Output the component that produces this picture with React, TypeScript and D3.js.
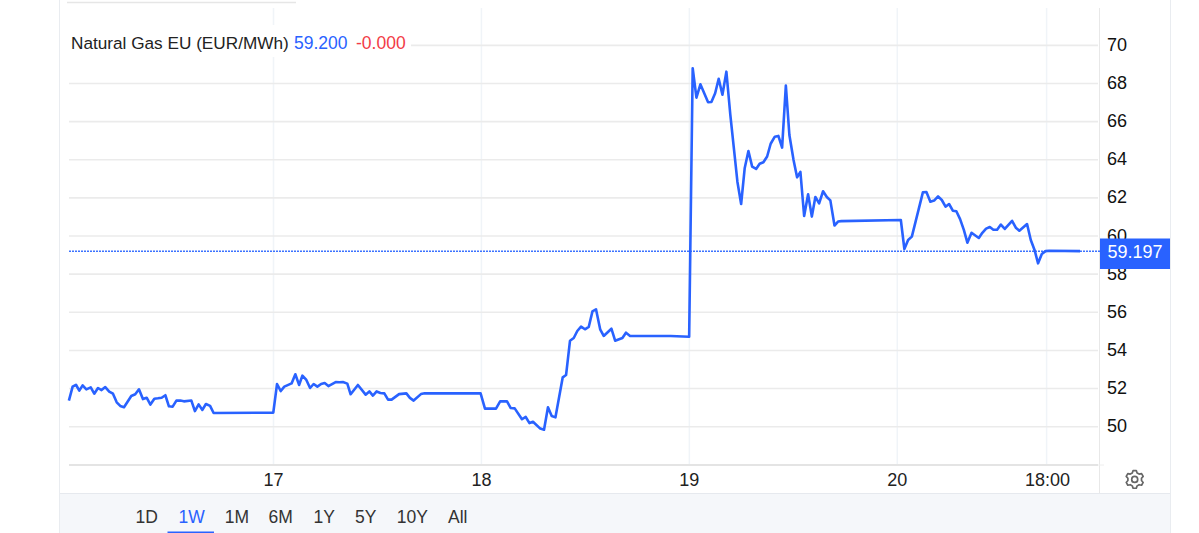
import React from "react";
import * as d3 from "d3";

const days = [
  16.016,16.034,16.050,16.066,16.082,16.100,16.121,16.138,16.156,16.173,16.191,16.210,16.228,16.246,16.263,16.281,16.316,16.335,16.353,16.372,16.390,16.408,16.427,16.444,16.462,16.480,16.497,16.515,16.533,16.552,16.569,16.605,16.622,16.640,16.658,16.675,16.695,16.712,16.999,
  17.017,17.035,17.052,17.087,17.105,17.123,17.139,17.158,17.176,17.193,17.211,17.229,17.246,17.264,17.299,17.317,17.334,17.355,17.371,17.406,17.443,17.461,17.478,17.496,17.514,17.533,17.551,17.568,17.604,17.639,17.656,17.674,17.709,17.727,17.996,
  18.017,18.070,18.090,18.123,18.141,18.160,18.195,18.213,18.231,18.248,18.283,18.301,18.320,18.338,18.356,18.391,18.407,18.426,18.444,18.461,18.479,18.498,18.516,18.534,18.551,18.571,18.588,18.625,18.643,18.678,18.695,18.715,18.910,18.999,
  19.016,19.034,19.053,19.090,19.106,19.124,19.141,19.159,19.178,19.197,19.215,19.231,19.249,19.266,19.284,19.302,19.321,19.338,19.356,19.374,19.391,19.411,19.428,19.446,19.464,19.481,19.501,19.518,19.534,19.552,19.571,19.589,19.606,19.624,19.643,19.661,19.678,19.698,19.715,19.731,
  20.017,20.034,20.052,20.070,20.123,20.140,20.159,20.177,20.196,20.214,20.232,20.249,20.267,20.284,20.302,20.320,20.337,20.357,20.392,20.409,20.427,20.445,20.462,20.480,20.498,20.517,20.552,20.570,20.587,20.624,20.642,20.660,20.677,20.695,20.713,20.730,20.879,
];

const prices = [
  51.37,52.10,52.20,51.89,52.17,51.96,52.06,51.73,52.03,51.92,52.08,51.84,51.73,51.28,51.09,51.02,51.61,51.70,51.96,51.45,51.52,51.16,51.47,51.49,51.52,51.65,51.07,51.05,51.37,51.37,51.33,51.37,50.82,51.17,50.88,51.19,51.09,50.72,50.74,
  52.24,51.87,52.10,52.27,52.75,52.19,52.68,52.45,52.03,52.24,52.10,52.24,52.29,52.13,52.34,52.33,52.34,52.26,51.70,52.19,51.68,51.85,51.63,51.85,51.77,51.75,51.42,51.42,51.71,51.75,51.51,51.37,51.71,51.75,51.75,
  50.95,50.95,51.33,51.33,50.98,50.96,50.39,50.51,50.19,50.26,49.90,49.84,51.02,50.56,50.49,52.59,52.71,54.51,54.65,55.02,55.25,55.11,55.23,56.05,56.16,55.11,54.76,55.14,54.51,54.65,54.93,54.76,54.76,54.72,
  68.80,67.26,67.96,67.02,67.03,67.49,68.25,67.41,68.62,66.35,64.50,62.85,61.68,63.55,64.46,63.64,63.52,63.79,63.87,64.17,64.84,65.21,65.25,64.64,67.89,65.30,63.99,63.08,63.36,61.05,62.19,61.02,62.05,61.71,62.35,62.05,61.87,60.55,60.76,60.78,
  60.84,59.32,59.79,59.97,62.29,62.31,61.80,61.86,62.08,61.89,61.54,61.68,61.33,61.30,60.89,60.32,59.65,60.17,59.90,60.17,60.39,60.47,60.33,60.33,60.60,60.37,60.80,60.44,60.28,60.63,59.79,59.27,58.57,59.06,59.21,59.23,59.21,
];

const yTicks = [50, 52, 54, 56, 58, 60, 62, 64, 66, 68, 70];
const xTicks = [17, 18, 19, 20, 20.718];
const xLabels = ["17", "18", "19", "20", "18:00"];
const ranges = ["1D", "1W", "1M", "6M", "1Y", "5Y", "10Y", "All"];
const rangeCenters = [146.7, 191.7, 237, 280.7, 324.3, 365.7, 412.3, 457.7];
const lastPrice = 59.197;

const BLUE = "#2962ff";
const FONT = "Arial, 'Liberation Sans', sans-serif";

const x = d3.scaleLinear().domain([17, 20]).range([273.5, 897.3]);
const y = d3.scaleLinear().domain([50, 68]).range([426.7, 83.5]);

function gearPath(cx: number, cy: number): string {
  const teeth = 6, rO = 9, rI = 6.9;
  const pts: [number, number][] = [];
  for (let i = 0; i < teeth; i++) {
    const a = (i / teeth) * Math.PI * 2 - Math.PI / 2;
    const step = (Math.PI * 2) / teeth;
    [[-0.34, rI], [-0.17, rO], [0.17, rO], [0.34, rI]].forEach(([f, r]) => {
      pts.push([cx + r * Math.cos(a + f * step), cy + r * Math.sin(a + f * step)]);
    });
  }
  return d3.line().curve(d3.curveLinearClosed)(pts) as string;
}

export default function App() {
  const linePath = d3
    .line<number>()
    .x((d) => x(d))
    .y((_, i) => y(prices[i]))(days) as string;
  const yLast = y(lastPrice);
  return (
    <svg
      width={1199}
      height={533}
      style={{ position: "fixed", left: 0, top: 0, display: "block", background: "#fff" }}
      fontFamily={FONT}
    >
      <rect x={60} y={494} width={1110} height={39} fill="#f5f7fa" />
      <line x1={59.5} x2={59.5} y1={0} y2={533} stroke="#e9ecf0" strokeWidth={1} />
      <line x1={1170.5} x2={1170.5} y1={0} y2={533} stroke="#e9ecf0" strokeWidth={1} />
      <line x1={60} x2={1170} y1={493.5} y2={493.5} stroke="#e6e9ee" strokeWidth={1} />
      <line x1={67} x2={296} y1={2.5} y2={2.5} stroke="#e6e6e6" strokeWidth={1.5} />

      {xTicks.map((t) => (
        <line key={t} x1={x(t)} x2={x(t)} y1={8} y2={465} stroke="#f0f4f8" strokeWidth={1.5} />
      ))}
      {yTicks.map((t) => (
        <line key={t} x1={69} x2={1098} y1={y(t)} y2={y(t)} stroke="#ebebeb" strokeWidth={1.6} />
      ))}
      <rect x={69} y={25} width={342} height={32} fill="#fff" />

      <line x1={69} x2={1098} y1={465} y2={465} stroke="#e4e4e4" strokeWidth={2} />
      <line x1={1099.5} x2={1099.5} y1={8} y2={493} stroke="#e8e8e8" strokeWidth={1} />
      <line x1={1098} x2={1104} y1={465} y2={465} stroke="#eeeeee" strokeWidth={1} />

      {yTicks.map((t) => (
        <text key={t} x={1107} y={y(t) - 1} dy="0.36em" fontSize={18} fill="#111">
          {t}
        </text>
      ))}
      {xTicks.map((t, i) => (
        <text key={t} x={x(t) + (i === 4 ? 1 : 0)} y={486} textAnchor="middle" fontSize={18} fill="#222">
          {xLabels[i]}
        </text>
      ))}

      <line
        x1={69}
        x2={1100}
        y1={yLast}
        y2={yLast}
        stroke="#3d73ff"
        strokeWidth={1.5}
        strokeDasharray="2 1"
      />
      <path d={linePath} fill="none" stroke={BLUE} strokeWidth={2.6} strokeLinejoin="round" />

      <rect x={1100} y={238.5} width={70} height={30.5} fill={BLUE} />
      <text x={1135} y={yLast} dy="0.36em" textAnchor="middle" fontSize={18} fill="#fff">
        {lastPrice.toFixed(3)}
      </text>

      <text x={71} y={49} fontSize={17.2} fill="#222">
        Natural Gas EU (EUR/MWh)
      </text>
      <text x={294} y={49} fontSize={17.5} fill={BLUE}>
        59.200
      </text>
      <text x={356} y={49} fontSize={17.5} fill="#f23b46">
        -0.000
      </text>

      {ranges.map((r, i) => (
        <text
          key={r}
          x={rangeCenters[i]}
          y={523}
          textAnchor="middle"
          fontSize={17.5}
          fill={r === "1W" ? BLUE : "#333"}
        >
          {r}
        </text>
      ))}
      <rect x={167.5} y={531.5} width={46.5} height={1.5} fill={BLUE} />

      <path d={gearPath(1134.7, 479.4)} fill="none" stroke="#666" strokeWidth={1.7} strokeLinejoin="round" />
      <circle cx={1134.7} cy={479.4} r={3} fill="none" stroke="#666" strokeWidth={1.7} />
    </svg>
  );
}
